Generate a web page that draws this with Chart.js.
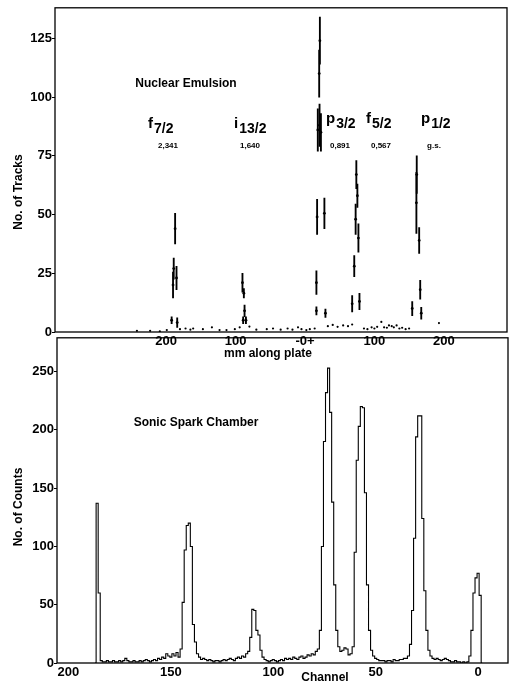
<!DOCTYPE html>
<html>
<head>
<meta charset="utf-8">
<script src="https://cdn.jsdelivr.net/npm/chart.js@4"></script>
<style>
html, body { margin: 0; padding: 0; background: #fff; }
#wrap { position: relative; width: 511px; height: 684px; overflow: hidden; }
canvas { position: absolute; left: 0; }
#emulsion { top: 0; z-index: 2; }
#spark { top: 330px; z-index: 1; }
</style>
</head>
<body>
<div id="wrap">
<canvas id="spark" width="511" height="354"></canvas>
<canvas id="emulsion" width="511" height="362"></canvas>
</div>
<script>
// --- top panel: nuclear emulsion (mm along plate, tracks, error) ---
const peakMm = [
    -192, -190, -189, -187, -185, -184,          // f7/2
    -90, -88, -87, -89, -85,                     // i13/2
    20.5, 21.5, 18.5, 21, 23, 17.5, 28, 16.5, 16.5, 29.5,   // p3/2
    74, 75.5, 73, 77, 71, 68, 78.5,              // f5/2
    161, 160.5, 164.5, 166, 154.5, 167.5         // p1/2
];
const peakTracks = [
    5, 20, 27, 44, 23, 4,
    21, 16.5, 9, 5, 5,
    110, 124, 86, 88, 85, 49, 50.5, 21, 9, 8,
    67, 58, 48, 40, 28, 12, 13,
    67, 55, 39, 18, 10, 8
];
const peakErr = [
    1.5, 5.5, 4.5, 6.5, 5, 2,
    4, 2, 2.5, 1.5, 1.5,
    10, 10, 9, 9, 8, 7.5, 6.5, 5, 1.7, 1.8,
    6, 5, 6.5, 6, 4.5, 3.5, 3.5,
    8, 13, 5.5, 4, 3, 2.5
];
// low background counts along the plate
const baseMm = [-242, -223, -209, -199, -180, -172, -165, -161, -147, -134, -123, -113, -101, -94, -80, -70, -55, -46, -35, -25, -18, -10, -5, 2, 7, 14, 33, 40, 47, 55, 62, 68, 85, 90, 96, 100, 104, 110, 114, 118, 121, 125, 128, 132, 136, 140, 145, 150, 193];
const baseTracks = [0.5, 0.5, 0.3, 0.8, 1.2, 1.5, 1, 1.5, 1.2, 2, 0.8, 0.8, 1.2, 2, 2.3, 1, 1.2, 1.5, 1, 1.5, 1, 2, 1.2, 0.8, 1.2, 1.5, 2.5, 3, 2.2, 2.8, 2.5, 3.2, 1.5, 1.2, 2, 1.5, 2.2, 4.3, 2, 1.8, 2.8, 2.5, 2, 2.8, 1.5, 1.8, 1.2, 1.5, 3.8];
const topXTicks = [-200, -100, 0, 100, 200];
const topYTicks = [0, 25, 50, 75, 100, 125];

// --- bottom panel: sonic spark chamber, counts per channel from 187 down to -2 ---
const firstChannel = 187;
const counts = [
    0, 137, 60, 2, 1, 1, 2, 1, 1, 2,           // 187..178
    1, 1, 2, 1, 2, 4, 2, 1, 1, 2,              // 177..168
    1, 1, 2, 1, 2, 3, 2, 1, 2, 3,              // 167..158
    2, 4, 3, 5, 4, 8, 6, 5, 8, 6,              // 157..148
    9, 5, 12, 52, 97, 118, 120, 100, 33, 18,   // 147..138
    8, 5, 3, 4, 3, 2, 3, 2, 1, 2,              // 137..128
    2, 1, 2, 3, 2, 3, 4, 3, 2, 4,              // 127..118
    5, 4, 6, 5, 8, 10, 22, 46, 45, 28,         // 117..108
    24, 11, 5, 3, 2, 1, 2, 3, 2, 1,            // 107..98
    2, 3, 2, 4, 3, 4, 3, 5, 4, 3,              // 97..88
    5, 6, 4, 5, 7, 6, 8, 7, 10, 12,            // 87..78
    28, 100, 190, 232, 253, 215, 138, 67, 28, 14,  // 77..68
    10, 11, 13, 12, 7, 8, 14, 95, 174, 203,    // 67..58
    220, 219, 146, 67, 28, 11, 6, 4, 3, 2,     // 57..48
    2, 2, 1, 2, 2, 1, 3, 2, 2, 3,              // 47..38
    3, 4, 4, 6, 16, 45, 107, 194, 212, 212,    // 37..28
    124, 62, 28, 11, 6, 4, 3, 4, 3, 2,         // 27..18
    3, 4, 3, 2, 1, 1, 2, 1, 1, 0,              // 17..8
    1, 0, 1, 6, 28, 60, 73, 77, 58, 0          // 7..-2
];
const channelTicks = [0, 50, 100, 150, 200];
const countTicks = [0, 50, 100, 150, 200, 250];

const FONT = '"Liberation Sans", Arial, sans-serif';
Chart.defaults.font.family = FONT;
Chart.defaults.color = "#000";

// box round the plot area
const frame = {
    id: "frame",
    afterDatasetsDraw(chart) {
        const a = chart.chartArea, ctx = chart.ctx;
        ctx.save();
        ctx.strokeStyle = "#000";
        ctx.lineWidth = 1.3;
        ctx.strokeRect(a.left, a.top, a.right - a.left, a.bottom - a.top);
        ctx.restore();
    }
};

// free text on the figure
function notes(items) {
    return {
        id: "notes",
        afterDraw(chart) {
            const ctx = chart.ctx;
            ctx.save();
            ctx.fillStyle = "#000";
            items.forEach(it => {
                ctx.save();
                ctx.font = it.font || "bold 12px " + FONT;
                ctx.translate(it.x, it.y);
                if (it.rot) ctx.rotate(it.rot * Math.PI / 180);
                if (it.sub) {
                    ctx.textAlign = "left";
                    ctx.textBaseline = "alphabetic";
                    ctx.fillText(it.t, 0, 0);
                    const w = ctx.measureText(it.t).width;
                    ctx.font = "bold 14px " + FONT;
                    ctx.fillText(it.sub, w + 1, 5);
                } else {
                    ctx.textAlign = "center";
                    ctx.textBaseline = "middle";
                    ctx.fillText(it.t, 0, 0);
                }
                ctx.restore();
            });
            ctx.restore();
        }
    };
}

const tickFont = { family: FONT, size: 13, weight: "bold" };

function initTop() {
    const bars = peakMm.map((x, i) => ({ x: x, y: [peakTracks[i] - peakErr[i], peakTracks[i] + peakErr[i]] }));
    const pts = peakMm.map((x, i) => ({ x: x, y: peakTracks[i] }));
    const base = baseMm.map((x, i) => ({ x: x, y: baseTracks[i] }));

    new Chart(document.getElementById("emulsion"), {
        type: "scatter",
        data: {
            datasets: [
                { type: "bar", data: bars, backgroundColor: "#000", barThickness: 1.2, grouped: false },
                { data: pts, pointRadius: 1.4, backgroundColor: "#000", borderWidth: 0 },
                { data: base, pointRadius: 1.1, backgroundColor: "#000", borderWidth: 0 }
            ]
        },
        options: {
            responsive: false,
            animation: false,
            layout: { padding: { left: 0, top: 4, right: 3, bottom: 0 } },
            plugins: { legend: { display: false }, tooltip: { enabled: false } },
            scales: {
                x: {
                    type: "linear",
                    offset: false,
                    min: -360,
                    max: 291,
                    afterBuildTicks: s => { s.ticks = topXTicks.map(v => ({ value: v })); },
                    afterFit: s => { s.height = 30; },
                    ticks: {
                        font: tickFont, padding: 2, maxRotation: 0,
                        callback: v => v === 0 ? "-0+" : String(Math.abs(v))
                    },
                    grid: { display: false, drawTicks: false, offset: false },
                    border: { display: false }
                },
                y: {
                    min: 0,
                    max: 138,
                    afterBuildTicks: s => { s.ticks = topYTicks.map(v => ({ value: v })); },
                    afterFit: s => { s.width = 55; },
                    ticks: { font: tickFont, padding: 0 },
                    grid: { drawOnChartArea: false, drawTicks: true, tickLength: 3, color: "#000" },
                    border: { display: false }
                }
            }
        },
        plugins: [frame, notes([
            { t: "Nuclear Emulsion", x: 186, y: 84 },
            { t: "No. of Tracks", x: 19, y: 192, rot: -90 },
            { t: "mm along plate", x: 268, y: 354 },
            { t: "f", sub: "7/2", x: 148, y: 128, font: "bold 15px " + FONT },
            { t: "i", sub: "13/2", x: 234, y: 128, font: "bold 15px " + FONT },
            { t: "p", sub: "3/2", x: 326, y: 123, font: "bold 15px " + FONT },
            { t: "f", sub: "5/2", x: 366, y: 123, font: "bold 15px " + FONT },
            { t: "p", sub: "1/2", x: 421, y: 123, font: "bold 15px " + FONT },
            { t: "2,341", x: 168, y: 146, font: "bold 8px " + FONT },
            { t: "1,640", x: 250, y: 146, font: "bold 8px " + FONT },
            { t: "0,891", x: 340, y: 146, font: "bold 8px " + FONT },
            { t: "0,567", x: 381, y: 146, font: "bold 8px " + FONT },
            { t: "g.s.", x: 434, y: 146, font: "bold 8px " + FONT }
        ])]
    });
}

function initBottom() {
    const hist = counts.map((c, i) => ({ x: firstChannel - i, y: c }));

    new Chart(document.getElementById("spark"), {
        type: "line",
        data: {
            datasets: [{
                data: hist,
                stepped: "middle",
                borderColor: "#000",
                borderWidth: 1.1,
                pointRadius: 0,
                fill: false
            }]
        },
        options: {
            responsive: false,
            animation: false,
            layout: { padding: { left: 0, top: 3, right: 3, bottom: 0 } },
            plugins: { legend: { display: false }, tooltip: { enabled: false } },
            scales: {
                x: {
                    type: "linear",
                    reverse: true,
                    min: -14.6,
                    max: 205.6,
                    afterBuildTicks: s => { s.ticks = channelTicks.map(v => ({ value: v })); },
                    afterFit: s => { s.height = 21; },
                    ticks: { font: tickFont, padding: 2, maxRotation: 0 },
                    grid: { display: false, drawTicks: false },
                    border: { display: false }
                },
                y: {
                    min: 0,
                    max: 279,
                    afterBuildTicks: s => { s.ticks = countTicks.map(v => ({ value: v })); },
                    afterFit: s => { s.width = 57; },
                    ticks: { font: tickFont, padding: 0 },
                    grid: { drawOnChartArea: false, drawTicks: true, tickLength: 3, color: "#000" },
                    border: { display: false }
                }
            }
        },
        plugins: [frame, notes([
            { t: "Sonic Spark Chamber", x: 196, y: 93 },
            { t: "No. of Counts", x: 19, y: 177, rot: -90 },
            { t: "Channel", x: 325, y: 348 }
        ])]
    });
}

window.addEventListener("load", () => {
    initBottom();
    initTop();
});
</script>
</body>
</html>
